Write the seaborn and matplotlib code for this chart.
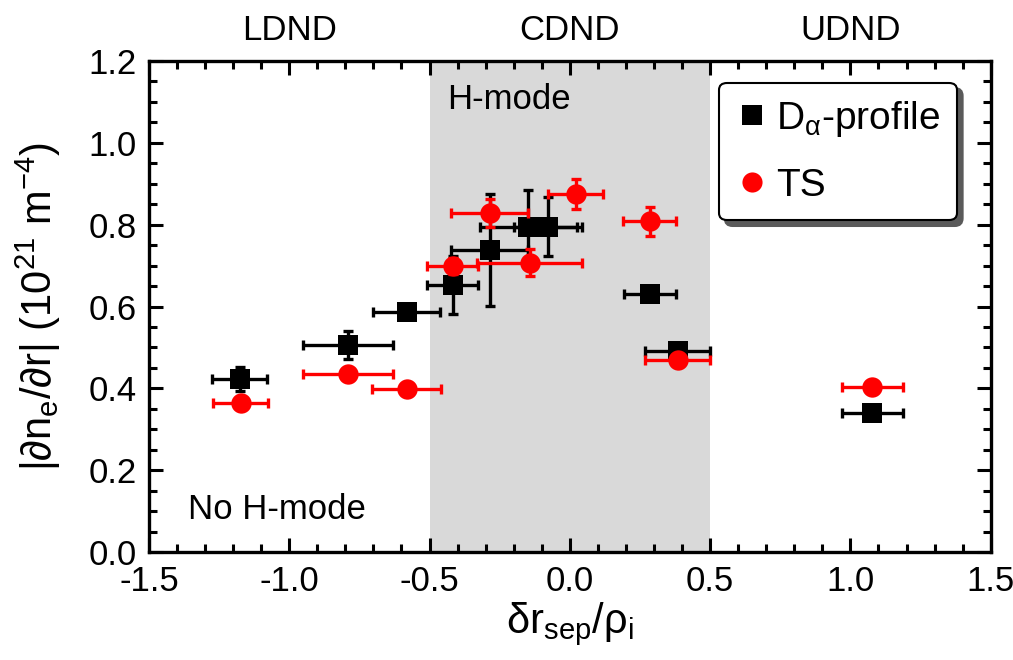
#!/usr/bin/env python3

import matplotlib
matplotlib.use("Agg")
import matplotlib.pyplot as plt
from matplotlib import lines
from matplotlib.patches import Shadow
from matplotlib.ticker import MultipleLocator
import seaborn as sns
import pandas as pd

# ---------------------------------------------------------------------------
# Data

# D-alpha profile measurements
da_x = [-1.176, -0.79, -0.582, -0.418, -0.285, -0.148, -0.078, 0.285, 0.384, 1.078]
da_y = [0.423, 0.506, 0.587, 0.653, 0.738, 0.795, 0.795, 0.630, 0.492, 0.339]
da_xerr = [0.098, 0.16, 0.12, 0.092, 0.137, 0.173, 0.12, 0.093, 0.116, 0.108]
da_yerr = [0.03, 0.035, 0.0, 0.071, 0.136, 0.09, 0.072, 0.0, 0.0, 0.0]

# Thomson scattering measurements
ts_x = [-1.172, -0.79, -0.582, -0.418, -0.285, -0.142, 0.021, 0.285, 0.384, 1.078]
ts_y = [0.365, 0.434, 0.398, 0.699, 0.828, 0.707, 0.875, 0.808, 0.469, 0.404]
ts_xerr = [0.098, 0.16, 0.123, 0.092, 0.137, 0.187, 0.099, 0.094, 0.116, 0.108]
ts_yerr = [0.0, 0.0, 0.0, 0.02, 0.034, 0.033, 0.037, 0.036, 0.0, 0.0]

series_names = ["D$_{\\alpha}$-profile", "TS"]
series_colors = ["black", "#ff0000"]
series_markers = ["s", "o"]

region_labels = ["LDND", "CDND", "UDND"]
region_centers = [-1.0, 0.0, 1.0]

# ---------------------------------------------------------------------------
# Global plot configuration

sns.set_style("ticks")
plt.rcParams["font.family"] = ["Liberation Sans", "DejaVu Sans"]
plt.rcParams["mathtext.fontset"] = "custom"
plt.rcParams["mathtext.rm"] = "Liberation Sans"
plt.rcParams["mathtext.it"] = "Liberation Sans:italic"
plt.rcParams["mathtext.default"] = "regular"
plt.rcParams["font.size"] = 24
for key in ["text.color", "axes.labelcolor", "xtick.color", "ytick.color"]:
    plt.rcParams[key] = "black"

df = pd.concat(
    [
        pd.DataFrame(
            {"x": da_x, "y": da_y, "xerr": da_xerr, "yerr": da_yerr,
             "method": series_names[0]}
        ),
        pd.DataFrame(
            {"x": ts_x, "y": ts_y, "xerr": ts_xerr, "yerr": ts_yerr,
             "method": series_names[1]}
        ),
    ],
    ignore_index=True,
)

fig, ax = plt.subplots(figsize=(10.13, 6.6), dpi=100)
fig.subplots_adjust(left=0.147, right=0.978, top=0.9076, bottom=0.1636)

# H-mode window
ax.axvspan(-0.5, 0.5, color="#d9d9d9", lw=0, zorder=0)

# Error bars per series
for i, (name, color) in enumerate(zip(series_names, series_colors)):
    sub = df[df["method"] == name]
    ax.errorbar(
        sub["x"], sub["y"], xerr=sub["xerr"], yerr=sub["yerr"],
        fmt="none", ecolor=color, elinewidth=2.4, capsize=3.6, capthick=2.4,
        zorder=2 + i,
    )

# Markers
for i, (name, color, marker) in enumerate(
    zip(series_names, series_colors, series_markers)
):
    sns.scatterplot(
        data=df[df["method"] == name], x="x", y="y",
        color=color, marker=marker, s=215, linewidth=0,
        ax=ax, legend=False, zorder=2.5 + i,
    )

# Axis formatting
ax.set_xlim(-1.5, 1.5)
ax.set_ylim(0.0, 1.2)
ax.xaxis.set_major_locator(MultipleLocator(0.5))
ax.xaxis.set_minor_locator(MultipleLocator(0.1))
ax.yaxis.set_major_locator(MultipleLocator(0.2))
ax.yaxis.set_minor_locator(MultipleLocator(0.05))
ax.set_xticklabels([f"{v:.1f}" for v in ax.get_xticks()])
ax.set_yticklabels([f"{v:.1f}" for v in ax.get_yticks()])
ax.tick_params(which="both", direction="in", top=True, right=True,
               width=2.2, labelsize=25, color="black")
ax.tick_params(which="major", length=10, pad=9)
ax.tick_params(which="minor", length=5.5)
for sp in ax.spines.values():
    sp.set_visible(True)
    sp.set_linewidth(2.4)
    sp.set_color("black")
    sp.set_zorder(5)

ax.set_xlabel("$\\delta$r$_{\\rm sep}$/$\\rho_{\\rm i}$", fontsize=30, labelpad=2)
ax.set_ylabel("$|\\partial$n$_{\\rm e}$/$\\partial$r$|$ (10$^{21}$ m$^{-4}$)",
              fontsize=30, labelpad=18)

# Region labels above the plot
trans = ax.get_xaxis_transform()
for lab, xc in zip(region_labels, region_centers):
    ax.text(xc, 1.063, lab, transform=trans, ha="center", va="center",
            fontsize=25)

ax.text(-0.438, 1.105, "H-mode", ha="left", va="center", fontsize=25)
ax.text(-1.361, 0.103, "No H-mode", ha="left", va="center", fontsize=25)

# Manual legend
legend_markers = [
    lines.Line2D([0], [0], color=c, marker=m, lw=0, markersize=14.5,
                 markeredgewidth=0)
    for c, m in zip(series_colors, series_markers)
]
# a little extra room on the right of the box
legend_labels = [series_names[0] + "$\\;$", series_names[1]]
legend = ax.legend(
    legend_markers, legend_labels, loc="upper right",
    bbox_to_anchor=(0.96, 0.956), borderaxespad=0, fontsize=28,
    handlelength=0.85, handletextpad=0.2, borderpad=0.42, labelspacing=0.75,
    fancybox=True, framealpha=1, shadow=False,
)
legend.get_frame().set_linewidth(1.5)
legend.get_frame().set_edgecolor("black")
legend.set_zorder(6)

# Heavier drop shadow than the legend default
fig.canvas.draw()
shadow = Shadow(legend.legendPatch, 4.0, -4.0, color="#5a5a5a", alpha=1.0)
shadow.set_clip_on(False)
shadow.set_zorder(5.9)
ax.add_artist(shadow)

plt.savefig("out.png", dpi=100)
